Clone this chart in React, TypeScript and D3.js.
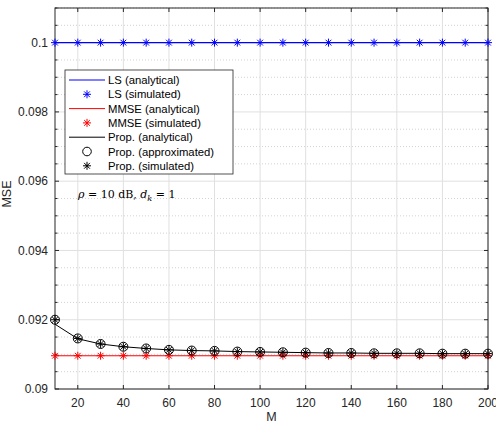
// @ts-nocheck
import { useRef, useEffect } from "react";
import * as d3 from "d3";

const M = [10, 20, 30, 40, 50, 60, 70, 80, 90, 100, 110, 120, 130, 140, 150, 160, 170, 180, 190, 200];
const lsAnalytical = M.map(() => 0.1);
const lsSimulated = M.map(() => 0.1);
const mmseAnalytical = [0.09096, 0.09096, 0.09096, 0.09096, 0.09096, 0.09096, 0.09096, 0.09096, 0.09096, 0.09096, 0.09096, 0.09096, 0.09096, 0.09096, 0.09096, 0.09096, 0.09096, 0.09096, 0.09096, 0.09096];
const mmseSimulated = [0.09096, 0.09096, 0.09096, 0.09096, 0.09096, 0.09096, 0.09096, 0.09096, 0.09096, 0.09096, 0.09096, 0.09096, 0.09096, 0.09096, 0.09096, 0.09096, 0.09096, 0.09096, 0.09096, 0.09096];
const propAnalytical = [0.09187, 0.09145, 0.0913, 0.09122, 0.09117, 0.09113, 0.09111, 0.0911, 0.09108, 0.09107, 0.09106, 0.09105, 0.09104, 0.09104, 0.09103, 0.09103, 0.09103, 0.09102, 0.09102, 0.09102];
const propApprox = [0.0920, 0.09146, 0.0913, 0.09122, 0.09117, 0.09113, 0.09111, 0.0911, 0.09108, 0.09107, 0.09106, 0.09105, 0.09104, 0.09104, 0.09103, 0.09103, 0.09103, 0.09102, 0.09102, 0.09102];
const propSimulated = [0.0920, 0.09146, 0.0913, 0.09122, 0.09117, 0.09113, 0.09111, 0.0911, 0.09108, 0.09107, 0.09106, 0.09105, 0.09104, 0.09104, 0.09103, 0.09103, 0.09103, 0.09102, 0.09102, 0.09102];

const xTicks = [20, 40, 60, 80, 100, 120, 140, 160, 180, 200];
const yTicks = [0.09, 0.092, 0.094, 0.096, 0.098, 0.1];
const yTickLabels = ["0.09", "0.092", "0.094", "0.096", "0.098", "0.1"];

const legendItems = [
  { label: "LS (analytical)", kind: "line", color: "#0000ff" },
  { label: "LS (simulated)", kind: "star", color: "#0000ff" },
  { label: "MMSE (analytical)", kind: "line", color: "#ff0000" },
  { label: "MMSE (simulated)", kind: "star", color: "#ff0000" },
  { label: "Prop. (analytical)", kind: "line", color: "#000000" },
  { label: "Prop. (approximated)", kind: "circle", color: "#000000" },
  { label: "Prop. (simulated)", kind: "star", color: "#000000" },
];

const W = 496;
const H = 424;
const font = "'Liberation Sans', Arial, sans-serif";

function drawStar(g, cx, cy, color, r = 4) {
  const d = r * 0.72;
  g.append("path")
    .attr("d", `M${cx - r},${cy}L${cx + r},${cy}M${cx},${cy - r}L${cx},${cy + r}M${cx - d},${cy - d}L${cx + d},${cy + d}M${cx - d},${cy + d}L${cx + d},${cy - d}`)
    .attr("stroke", color)
    .attr("stroke-width", 1)
    .attr("fill", "none");
}

export default function App() {
  const ref = useRef(null);

  useEffect(() => {
    const svg = d3.select(ref.current);
    svg.selectAll("*").remove();

    const left = 55, right = 488, top = 8, bottom = 389;
    const x = d3.scaleLinear().domain([10, 200]).range([left, right]);
    const y = d3.scaleLinear().domain([0.09, 0.101]).range([bottom, top]);

    svg.append("rect").attr("width", W).attr("height", H).attr("fill", "#fff");

    // minor horizontal grid (dotted)
    const minorY = d3.range(0, 23).map((i) => 0.09 + i * 0.0005).filter((v) => v <= 0.101 + 1e-9);
    svg.append("g")
      .selectAll("line")
      .data(minorY.filter((v) => Math.abs(Math.round(v / 0.002) * 0.002 - v) > 1e-7))
      .join("line")
      .attr("x1", left).attr("x2", right)
      .attr("y1", (d) => y(d)).attr("y2", (d) => y(d))
      .attr("stroke", "#c8c8c8")
      .attr("stroke-width", 0.8)
      .attr("stroke-dasharray", "1,2");

    // major grid
    const grid = svg.append("g").attr("stroke", "#e0e0e0").attr("stroke-width", 1);
    xTicks.forEach((t) => {
      grid.append("line").attr("x1", x(t)).attr("x2", x(t)).attr("y1", top).attr("y2", bottom);
    });
    yTicks.forEach((t) => {
      grid.append("line").attr("x1", left).attr("x2", right).attr("y1", y(t)).attr("y2", y(t));
    });

    // axes box
    const axisColor = "#262626";
    svg.append("rect")
      .attr("x", left).attr("y", top)
      .attr("width", right - left).attr("height", bottom - top)
      .attr("fill", "none").attr("stroke", axisColor).attr("stroke-width", 1);

    const ticks = svg.append("g").attr("stroke", axisColor).attr("stroke-width", 1);
    xTicks.forEach((t) => {
      ticks.append("line").attr("x1", x(t)).attr("x2", x(t)).attr("y1", bottom).attr("y2", bottom - 4);
      ticks.append("line").attr("x1", x(t)).attr("x2", x(t)).attr("y1", top).attr("y2", top + 4);
    });
    minorY.forEach((t) => {
      const major = Math.abs(Math.round(t / 0.002) * 0.002 - t) < 1e-7;
      const len = major ? 4 : 2.5;
      ticks.append("line").attr("x1", left).attr("x2", left + len).attr("y1", y(t)).attr("y2", y(t));
      ticks.append("line").attr("x1", right).attr("x2", right - len).attr("y1", y(t)).attr("y2", y(t));
    });

    // tick labels
    svg.append("g")
      .selectAll("text")
      .data(xTicks)
      .join("text")
      .attr("x", (d) => x(d))
      .attr("y", bottom + 17.5)
      .attr("text-anchor", "middle")
      .attr("font-family", font)
      .attr("font-size", 12)
      .attr("fill", axisColor)
      .text((d) => d);
    svg.append("g")
      .selectAll("text")
      .data(yTicks)
      .join("text")
      .attr("x", left - 7)
      .attr("y", (d) => y(d) + 4.3)
      .attr("text-anchor", "end")
      .attr("font-family", font)
      .attr("font-size", 12)
      .attr("fill", axisColor)
      .text((d, i) => yTickLabels[i]);

    // axis labels
    svg.append("text")
      .attr("x", (left + right) / 2).attr("y", 421)
      .attr("text-anchor", "middle")
      .attr("font-family", font).attr("font-size", 12.5).attr("fill", axisColor)
      .text("M");
    svg.append("text")
      .attr("transform", `translate(11,194) rotate(-90)`)
      .attr("text-anchor", "middle")
      .attr("font-family", font).attr("font-size", 12.5).attr("fill", axisColor)
      .text("MSE");

    const line = d3.line().x((d, i) => x(M[i])).y((d) => y(d));
    const plot = svg.append("g");

    plot.append("path").datum(lsAnalytical).attr("d", line).attr("fill", "none").attr("stroke", "#0000ff").attr("stroke-width", 1.2);
    lsSimulated.forEach((v, i) => drawStar(plot, x(M[i]), y(v), "#0000ff"));

    plot.append("path").datum(mmseAnalytical).attr("d", line).attr("fill", "none").attr("stroke", "#ff0000").attr("stroke-width", 1.2);
    mmseSimulated.forEach((v, i) => drawStar(plot, x(M[i]), y(v), "#ff0000"));

    plot.append("path").datum(propAnalytical).attr("d", line).attr("fill", "none").attr("stroke", "#000").attr("stroke-width", 1);
    propApprox.forEach((v, i) => {
      plot.append("circle").attr("cx", x(M[i])).attr("cy", y(v)).attr("r", 4.5).attr("fill", "none").attr("stroke", "#000").attr("stroke-width", 1);
    });
    propSimulated.forEach((v, i) => drawStar(plot, x(M[i]), y(v), "#000"));

    // legend
    const lg = svg.append("g").attr("transform", "translate(65,70)");
    lg.append("rect").attr("width", 168).attr("height", 104).attr("fill", "#fff").attr("stroke", axisColor).attr("stroke-width", 0.8);
    legendItems.forEach((it, i) => {
      const cy = 10 + i * 14.3;
      if (it.kind === "line") {
        lg.append("line").attr("x1", 4).attr("x2", 40).attr("y1", cy).attr("y2", cy).attr("stroke", it.color).attr("stroke-width", 1);
      } else if (it.kind === "star") {
        drawStar(lg, 22, cy, it.color);
      } else {
        lg.append("circle").attr("cx", 22).attr("cy", cy).attr("r", 4.3).attr("fill", "none").attr("stroke", it.color).attr("stroke-width", 1);
      }
      lg.append("text")
        .attr("x", 43).attr("y", cy + 4)
        .attr("font-family", font).attr("font-size", 11.3).attr("fill", "#000")
        .text(it.label);
    });

    // annotation
    const ann = svg.append("text")
      .attr("x", 78).attr("y", 198)
      .attr("font-family", "'DejaVu Serif', 'Liberation Serif', serif")
      .attr("font-size", 11).attr("fill", "#000");
    ann.append("tspan").attr("font-style", "italic").text("ρ");
    ann.append("tspan").text(" = 10 dB,  ");
    ann.append("tspan").attr("font-style", "italic").text("d");
    ann.append("tspan").attr("font-style", "italic").attr("font-size", 8).attr("dy", 2.5).text("k");
    ann.append("tspan").attr("dy", -2.5).text(" = 1");
  }, []);

  return <svg ref={ref} width={W} height={H} style={{ position: "absolute", left: 0, top: 0 }}></svg>;
}
